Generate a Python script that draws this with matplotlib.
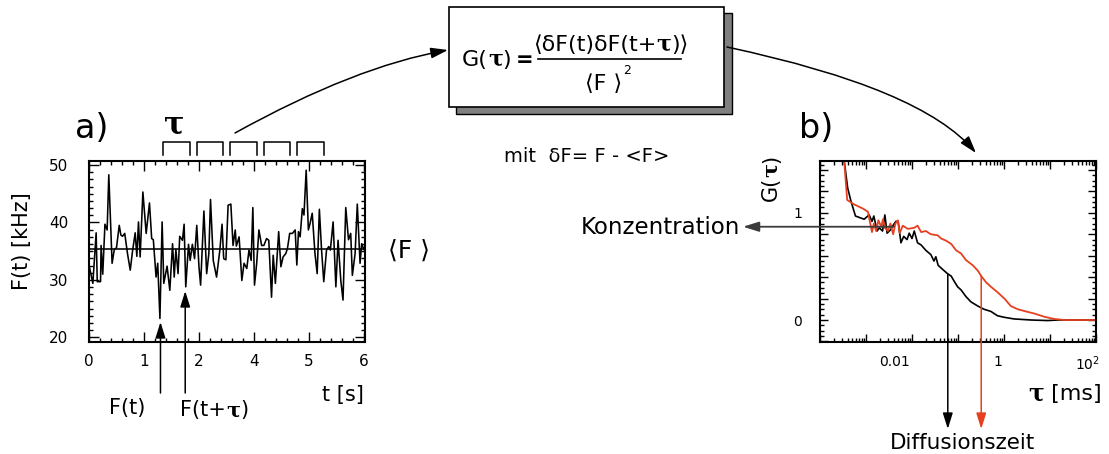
import matplotlib
matplotlib.use("Agg")
import matplotlib.pyplot as plt
import matplotlib.transforms as mtransforms
from matplotlib.patches import Rectangle, FancyArrowPatch
from matplotlib.ticker import (MultipleLocator, AutoMinorLocator, FixedLocator,
                               FuncFormatter, LogLocator, NullFormatter)

plt.rcParams['font.family'] = ['DejaVu Sans']

# ---------------- data: panel a) fluorescence trace ----------------
t_units = [0.00, 0.07, 0.13, 0.15, 0.21, 0.22, 0.25, 0.29, 0.33, 0.36,
           0.42, 0.46, 0.50, 0.55, 0.58, 0.61, 0.65, 0.70, 0.75, 0.79,
           0.84, 0.87, 0.90, 0.93, 0.98, 1.04, 1.10, 1.14, 1.17, 1.22,
           1.25, 1.29, 1.33, 1.36, 1.42, 1.47, 1.52, 1.55, 1.58, 1.62,
           1.65, 1.70, 1.73, 1.76, 1.81, 1.84, 1.88, 1.92, 1.96, 2.00,
           2.03, 2.09, 2.14, 2.18, 2.21, 2.26, 2.32, 2.38, 2.42, 2.45,
           2.49, 2.53, 2.58, 2.62, 2.66, 2.68, 2.73, 2.78, 2.82, 2.87,
           2.91, 2.95, 2.98, 3.01, 3.05, 3.09, 3.14, 3.18, 3.23, 3.27,
           3.32, 3.35, 3.39, 3.45, 3.49, 3.53, 3.58, 3.61, 3.65, 3.70,
           3.75, 3.78, 3.81, 3.84, 3.88, 3.91, 3.95, 3.99, 4.02, 4.06,
           4.11, 4.15, 4.19, 4.23, 4.27, 4.32, 4.36, 4.39, 4.44, 4.49,
           4.53, 4.58, 4.62, 4.67, 4.72, 4.76, 4.79, 4.84, 4.88, 4.93,
           4.96, 5.00]
f_khz = [32.6, 29.4, 38.2, 29.7, 29.7, 36.0, 31.0, 39.7, 38.7, 48.3,
         32.9, 35.3, 35.6, 39.5, 37.8, 37.6, 38.1, 34.6, 31.7, 34.9,
         38.2, 34.1, 40.1, 34.0, 45.3, 38.1, 43.4, 37.2, 37.0, 30.5,
         32.9, 23.3, 40.1, 29.4, 32.4, 28.2, 36.3, 30.5, 35.3, 31.1,
         37.6, 36.9, 39.7, 28.8, 36.2, 33.4, 36.2, 33.7, 39.5, 32.3,
         29.1, 42.0, 31.1, 34.6, 44.0, 33.4, 30.5, 35.2, 39.7, 33.7,
         33.5, 43.0, 43.2, 36.0, 38.7, 35.9, 37.5, 29.9, 32.9, 32.0,
         35.2, 33.4, 42.6, 29.1, 32.9, 38.7, 36.0, 36.0, 37.2, 36.9,
         27.0, 34.3, 29.4, 38.4, 32.3, 34.0, 34.6, 35.5, 38.1, 38.1,
         38.7, 32.6, 38.4, 37.5, 42.4, 41.3, 49.1, 38.7, 39.8, 41.6,
         34.6, 31.1, 42.3, 35.2, 29.7, 35.2, 35.8, 35.2, 40.1, 28.8,
         36.9, 29.9, 26.5, 42.6, 37.0, 38.1, 30.8, 34.6, 43.2, 32.9,
         36.3, 35.3]
f_mean = 35.3
t_tick_pos = [0, 1, 2, 3, 4, 5]
t_tick_labels = ['0', '1', '2', '4', '5', '6']
f_tick_labels = [20, 30, 40, 50]
t_arrow_ft = 1.30      # position of F(t)
t_arrow_ftau = 1.75    # position of F(t+tau)

# ---------------- data: panel b) autocorrelation ----------------
tau_black = [3.1e-4, 4.0e-4, 4.7e-4, 5.9e-4, 9.1e-4, 1.17e-3, 1.35e-3, 1.48e-3, 1.74e-3, 1.95e-3,
             2.29e-3, 2.57e-3, 2.88e-3, 3.39e-3, 3.98e-3, 4.47e-3, 5.0e-3, 5.75e-3, 6.6e-3, 7.8e-3,
             8.7e-3, 1.0e-2, 1.12e-2, 1.32e-2, 1.58e-2, 2.0e-2, 2.57e-2, 3.0e-2, 3.3e-2, 3.7e-2,
             4.7e-2, 6.0e-2, 7.1e-2, 8.3e-2, 9.8e-2, 0.117, 0.148, 0.19, 0.27, 0.37,
             0.52, 0.72, 1.02, 1.66, 3.9, 8.9, 14.8, 34, 100]
g_black = [1.60, 1.23, 1.11, 0.97, 0.94, 0.98, 0.92, 0.97, 0.83, 0.86,
           0.83, 0.98, 0.81, 0.84, 0.89, 0.92, 0.92, 0.72, 0.78, 0.75,
           0.81, 0.76, 0.83, 0.72, 0.70, 0.65, 0.61, 0.55, 0.59, 0.51,
           0.47, 0.43, 0.41, 0.36, 0.31, 0.28, 0.22, 0.17, 0.13, 0.10,
           0.08, 0.04, 0.025, 0.01, 0.0, -0.005, 0.0, 0.0, 0.0]
tau_red = [3.2e-4, 3.9e-4, 5.4e-4, 8.5e-4, 1.10e-3, 1.35e-3, 1.48e-3, 1.66e-3, 1.86e-3, 2.14e-3,
           2.34e-3, 2.57e-3, 3.0e-3, 3.39e-3, 3.9e-3, 4.37e-3, 4.9e-3, 5.4e-3, 6.3e-3, 8.1e-3,
           1.12e-2, 1.32e-2, 1.58e-2, 2.0e-2, 2.57e-2, 3.6e-2, 4.3e-2, 5.5e-2, 7.1e-2, 9.1e-2,
           0.117, 0.148, 0.21, 0.27, 0.32, 0.41, 0.52, 0.72, 1.02, 1.41,
           2.0, 3.0, 4.6, 7.6, 12.3, 20.4, 35, 100]
g_red = [1.60, 1.12, 1.08, 1.04, 1.01, 0.82, 0.90, 0.83, 0.93, 0.87,
         0.94, 0.86, 0.83, 0.90, 0.80, 0.90, 0.93, 0.81, 0.88, 0.85,
         0.86, 0.88, 0.82, 0.83, 0.80, 0.79, 0.76, 0.74, 0.71, 0.65,
         0.62, 0.56, 0.51, 0.46, 0.41, 0.35, 0.31, 0.26, 0.20, 0.13,
         0.10, 0.08, 0.06, 0.03, 0.01, 0.0, 0.0, 0.0]
tau_decades = [1e-4, 1e-3, 1e-2, 1e-1, 1, 10, 100]
tau_tick_labels = {1e-2: '0.01', 1: '1', 100: r'$\mathregular{10^{2}}$'}
g_tick_labels = {0: '0', 1: '1'}
tau_diff_black, g_diff_black = 0.060, 0.43
tau_diff_red, g_diff_red = 0.32, 0.41
tau_conc, g_conc = 0.004, 0.87

RED = '#e6401e'

# ---------------- figure ----------------
W, H = 1109, 454
fig = plt.figure(figsize=(W / 100, H / 100), dpi=100)


def px_rect(x0, y0, x1, y1):
    return [x0 / W, 1 - y1 / H, (x1 - x0) / W, (y1 - y0) / H]


ax1 = fig.add_axes(px_rect(89, 161, 365, 342))
axG = fig.add_axes(px_rect(820, 161, 1096, 342))
ov = fig.add_axes([0, 0, 1, 1])
ov.set_xlim(0, W)
ov.set_ylim(H, 0)
ov.axis('off')
ov.set_zorder(10)
ov.patch.set_visible(False)

# ---- panel a ----
ax1.plot(t_units, f_khz, color='black', lw=1.15)
ax1.axhline(f_mean, color='black', lw=1.15)
ax1.set_xlim(0, 5.02)
ax1.set_ylim(19.2, 50.7)
ax1.set_xticks(t_tick_pos, t_tick_labels)
ax1.xaxis.set_minor_locator(AutoMinorLocator(5))
ax1.set_yticks(f_tick_labels)
ax1.yaxis.set_minor_locator(AutoMinorLocator(8))
ax1.tick_params(which='both', direction='in', top=True, right=True, width=1)
ax1.tick_params(which='major', length=7, labelsize=11)
ax1.tick_params(which='minor', length=3)
ax1.tick_params(axis='x', pad=9)
ax1.tick_params(axis='y', pad=15)
for s in ax1.spines.values():
    s.set_linewidth(1.5)

# ---- panel b ----
axG.semilogx(tau_black, g_black, color='black', lw=1.2)
axG.semilogx(tau_red, g_red, color=RED, lw=1.3)
axG.set_xlim(1e-4, 1e2)
axG.set_ylim(-0.205, 1.483)
axG.xaxis.set_major_locator(FixedLocator(tau_decades))
axG.xaxis.set_major_formatter(FuncFormatter(
    lambda v, p: next((lab for k, lab in tau_tick_labels.items() if abs(v / k - 1) < 1e-6), '')))
axG.xaxis.set_minor_locator(LogLocator(base=10, subs=range(2, 10), numticks=20))
axG.xaxis.set_minor_formatter(NullFormatter())
axG.yaxis.set_major_locator(MultipleLocator(0.2))
axG.yaxis.set_major_formatter(FuncFormatter(
    lambda v, p: next((lab for k, lab in g_tick_labels.items() if abs(v - k) < 1e-6), '')))
axG.yaxis.set_minor_locator(MultipleLocator(0.05))
axG.tick_params(which='both', direction='in', top=True, right=True, width=1)
axG.tick_params(which='major', length=6, labelsize=10)
axG.tick_params(which='minor', length=3)
axG.tick_params(axis='x', pad=9)
axG.tick_params(axis='y', pad=13)
for s in axG.spines.values():
    s.set_linewidth(1.5)

fig.canvas.draw()
shift = {'0.01': -17, '1': -6}
for lab in axG.get_xticklabels():
    txt = lab.get_text()
    dx = shift.get(txt, -8 if txt else 0)
    lab.set_transform(lab.get_transform() + mtransforms.ScaledTranslation(dx / 100, 0, fig.dpi_scale_trans))

# ---- helper for mixed-font text runs (overlay pixel coords) ----
SANS = dict(family='DejaVu Sans')
TAU = dict(family='DejaVu Serif', weight='bold')


def runs(x, y, parts, ha='left', rotation=0):
    """parts: (string, font kwargs) pairs, or a number = extra gap in pixels."""
    r = fig.canvas.get_renderer()
    widths = []
    for part in parts:
        if isinstance(part, (int, float)):
            widths.append(part)
            continue
        s, kw = part
        tmp = ov.text(0, 0, s, **kw)
        widths.append(tmp.get_window_extent(r).width)
        tmp.remove()
    total = sum(widths)
    pos = {'left': 0, 'center': -total / 2, 'right': -total}[ha]
    for part, w in zip(parts, widths):
        if not isinstance(part, (int, float)):
            s, kw = part
            if rotation == 0:
                ov.text(x + pos, y, s, ha='left', va='baseline', **kw)
            else:
                ov.text(x, y - pos, s, ha='left', va='baseline', rotation=90,
                        rotation_mode='anchor', **kw)
        pos += w


# ---- formula box ----
ov.add_patch(Rectangle((456, 13), 276, 101, facecolor='#808080', edgecolor='black', lw=1.0))
ov.add_patch(Rectangle((449, 7), 275, 100, facecolor='white', edgecolor='black', lw=1.2))
runs(462, 66, [('G(', dict(SANS, size=16)), ('τ', dict(TAU, size=16)),
               (')', dict(SANS, size=16)), 4, ('=', dict(SANS, size=15, weight='bold'))])
runs(611, 51, [('⟨δF(t)δF(t+', dict(SANS, size=16)), ('τ', dict(TAU, size=16)),
               (')⟩', dict(SANS, size=16))], ha='center')
ov.plot([538, 681], [59, 59], color='black', lw=1.2)
runs(604, 90, [('⟨F ⟩', dict(SANS, size=16))], ha='center')
ov.text(627, 70, '2', fontsize=9, ha='center', va='center')
ov.text(587, 157, 'mit  δF= F - <F>', fontsize=14, ha='center', va='center')

# ---- panel a annotations ----
ov.text(92, 128, 'a)', fontsize=24, ha='center', va='center')
ov.text(174, 133, 'τ', fontsize=22, ha='center', va='baseline', **TAU)
for i in range(5):
    x0 = 163.3 + 33.4 * i
    ov.plot([x0, x0, x0 + 26.7, x0 + 26.7], [155, 142, 142, 155], color='black', lw=1.1)
ov.text(22, 241, 'F(t) [kHz]', fontsize=15, rotation=90, ha='center', va='center')
ov.text(409, 251, '⟨F ⟩', fontsize=18, ha='center', va='center')
ov.text(343, 395, 't [s]', fontsize=15, ha='center', va='center')
ov.text(127, 408, 'F(t)', fontsize=15, ha='center', va='center')
runs(214, 416, [('F(t+', dict(SANS, size=15)), ('τ', dict(TAU, size=15)),
                (')', dict(SANS, size=15))], ha='center')

blend1 = mtransforms.blended_transform_factory(ax1.transData, ov.transData)
AP = dict(arrowstyle='-|>,head_length=0.8,head_width=0.25', mutation_scale=12,
          lw=1.1, shrinkA=0, shrinkB=0, color='black')
for tx, ytip in [(t_arrow_ft, 322), (t_arrow_ftau, 291)]:
    ov.annotate('', xy=(tx, ytip), xycoords=blend1, xytext=(tx, 393), textcoords=blend1,
                arrowprops=AP, annotation_clip=False)

# ---- curved arrows ----
ov.add_patch(FancyArrowPatch((235, 133), (448, 50), connectionstyle='angle3,angleA=29,angleB=10',
                             arrowstyle='-|>,head_length=0.8,head_width=0.25', mutation_scale=13,
                             lw=1.1, color='black', shrinkA=0, shrinkB=0))
ov.add_patch(FancyArrowPatch((727, 47), (976, 153), connectionstyle='angle3,angleA=-12,angleB=-50',
                             arrowstyle='-|>,head_length=0.8,head_width=0.25', mutation_scale=13,
                             lw=1.1, color='black', shrinkA=0, shrinkB=0))

# ---- panel b annotations ----
ov.text(816, 128, 'b)', fontsize=24, ha='center', va='center')
runs(777, 178, [('G(', dict(SANS, size=15)), ('τ', dict(TAU, size=15)), (')', dict(SANS, size=15))],
     ha='center', rotation=90)
ov.text(740, 227, 'Konzentration', fontsize=16.5, ha='right', va='center')
ov.text(963, 443, 'Diffusionszeit', fontsize=15.5, ha='center', va='center')
runs(1102, 400, [('τ', dict(TAU, size=17)), (' [ms]', dict(SANS, size=16))], ha='right')

blendG_x = mtransforms.blended_transform_factory(axG.transData, ov.transData)
blendG_y = mtransforms.blended_transform_factory(ov.transData, axG.transData)
ov.annotate('', xy=(743, g_conc), xycoords=blendG_y, xytext=(tau_conc, g_conc), textcoords=axG.transData,
            arrowprops=dict(AP, color='#3c3c3c', lw=1.3), annotation_clip=False)
ov.annotate('', xy=(tau_diff_black, 429), xycoords=blendG_x, xytext=(tau_diff_black, g_diff_black),
            textcoords=axG.transData, arrowprops=dict(AP, color='black'), annotation_clip=False)
ov.annotate('', xy=(tau_diff_red, 429), xycoords=blendG_x, xytext=(tau_diff_red, g_diff_red),
            textcoords=axG.transData, arrowprops=dict(AP, color=RED), annotation_clip=False)

fig.savefig('out.png', dpi=100)
